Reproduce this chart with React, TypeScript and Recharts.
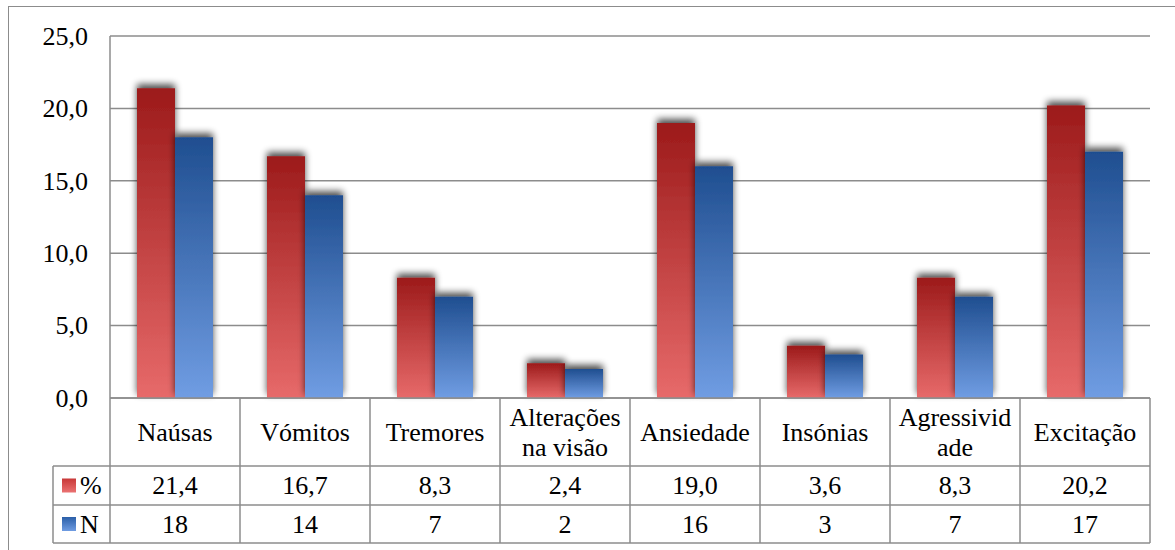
import React from "react";
import { BarChart, Bar, XAxis, YAxis, CartesianGrid } from "recharts";

const categories = [
  "Naúsas",
  "Vómitos",
  "Tremores",
  "Alterações\nna visão",
  "Ansiedade",
  "Insónias",
  "Agressivid\nade",
  "Excitação",
];
const pctValues = [21.4, 16.7, 8.3, 2.4, 19.0, 3.6, 8.3, 20.2];
const nValues = [18, 14, 7, 2, 16, 3, 7, 17];
const yTicks = [0, 5, 10, 15, 20, 25];
const seriesLabels = ["%", "N"];

const data = categories.map((c, i) => ({ name: c, pct: pctValues[i], n: nValues[i] }));

const W = 1175;
const H = 550;
const M = { top: 36, right: 25, left: 50, bottom: 0 };
const Y_AXIS_W = 60;
const X_AXIS_H = 152;
const PLOT_LEFT = M.left + Y_AXIS_W;
const PLOT_RIGHT = W - M.right;
const PLOT_BOTTOM = H - M.bottom - X_AXIS_H;
const BAND = (PLOT_RIGHT - PLOT_LEFT) / categories.length;
const ROW1 = PLOT_BOTTOM + 68;
const ROW2 = ROW1 + 39;
const ROW3 = ROW2 + 38;
const LEGEND_LEFT = 53;
const GRID = "#8c8c8c";
const FONT = "Liberation Serif";
const FS = 26;
const DY = "0.34em";

const fmt1 = (v: number) => v.toFixed(1).replace(".", ",");
const tStyle: React.CSSProperties = { fontFamily: FONT, fontSize: FS };

const YTick = (props: any) => {
  const { x, y, payload } = props;
  return (
    <text className="serif-t" x={x} y={y} dy={DY} textAnchor="end" fontFamily={FONT} fontSize={FS} style={tStyle} fill="#000">
      {fmt1(payload.value)}
    </text>
  );
};

const XTick = (props: any) => {
  const { x, payload, index } = props;
  const cx = x;
  const left = cx - BAND / 2;
  const right = cx + BAND / 2;
  const idx = payload.index ?? index;
  const lines = String(payload.value).split("\n");
  const midRow1 = (PLOT_BOTTOM + ROW1) / 2;
  const lh = 30;
  const txt = {
    className: "serif-t",
    fontFamily: FONT,
    fontSize: FS,
    style: tStyle,
    fill: "#000",
    dy: DY,
    textAnchor: "middle" as const,
  };
  const ln = { stroke: GRID, strokeWidth: 1.5 };
  return (
    <g>
      <line x1={left} y1={PLOT_BOTTOM} x2={left} y2={ROW3} {...ln} />
      {idx === categories.length - 1 && <line x1={right} y1={PLOT_BOTTOM} x2={right} y2={ROW3} {...ln} />}
      <line x1={left} y1={ROW1} x2={right} y2={ROW1} {...ln} />
      <line x1={left} y1={ROW2} x2={right} y2={ROW2} {...ln} />
      <line x1={left} y1={ROW3} x2={right} y2={ROW3} {...ln} />
      {lines.map((l, k) => (
        <text key={k} x={cx} y={midRow1 + (k - (lines.length - 1) / 2) * lh} {...txt}>
          {l}
        </text>
      ))}
      <text x={cx} y={(ROW1 + ROW2) / 2} {...txt}>
        {fmt1(pctValues[idx])}
      </text>
      <text x={cx} y={(ROW2 + ROW3) / 2} {...txt}>
        {String(nValues[idx])}
      </text>
      {idx === 0 && (
        <g>
          <line x1={LEGEND_LEFT} y1={ROW1} x2={left} y2={ROW1} {...ln} />
          <line x1={LEGEND_LEFT} y1={ROW2} x2={left} y2={ROW2} {...ln} />
          <line x1={LEGEND_LEFT} y1={ROW3} x2={left} y2={ROW3} {...ln} />
          <line x1={LEGEND_LEFT} y1={ROW1} x2={LEGEND_LEFT} y2={ROW3} {...ln} />
          <rect x={62} y={(ROW1 + ROW2) / 2 - 7} width={14} height={14} fill="url(#legRed)" />
          <rect x={62} y={(ROW2 + ROW3) / 2 - 7} width={14} height={14} fill="url(#legBlue)" />
          <text x={80} y={(ROW1 + ROW2) / 2} {...txt} textAnchor="start">
            {seriesLabels[0]}
          </text>
          <text x={80} y={(ROW2 + ROW3) / 2} {...txt} textAnchor="start">
            {seriesLabels[1]}
          </text>
        </g>
      )}
    </g>
  );
};

export default function App() {
  return (
    <div
      style={{
        position: "absolute",
        left: 0,
        top: 0,
        width: W,
        height: H,
        overflow: "hidden",
        background: "#fff",
      }}
    >
      <style>{`.serif-t, svg text { font-family: "Liberation Serif" !important; }`}</style>
      <div
        style={{
          position: "absolute",
          left: 8,
          top: 6,
          width: 1400,
          height: 800,
          border: `1.5px solid ${GRID}`,
          boxSizing: "border-box",
        }}
      />
      <div style={{ position: "absolute", left: 0, top: 0 }}>
        <BarChart width={W} height={H} data={data} margin={M} barSize={38} barGap={0}>
          <defs>
            <linearGradient id="gRed" x1="0" y1="0" x2="0" y2="1">
              <stop offset="0%" stopColor="#9c1a1a" />
              <stop offset="100%" stopColor="#e76a6a" />
            </linearGradient>
            <linearGradient id="gBlue" x1="0" y1="0" x2="0" y2="1">
              <stop offset="0%" stopColor="#1f4e90" />
              <stop offset="100%" stopColor="#709de3" />
            </linearGradient>
            <linearGradient id="legRed" x1="0" y1="0" x2="0" y2="1">
              <stop offset="0%" stopColor="#c83838" />
              <stop offset="100%" stopColor="#ea7272" />
            </linearGradient>
            <linearGradient id="legBlue" x1="0" y1="0" x2="0" y2="1">
              <stop offset="0%" stopColor="#2b5fa8" />
              <stop offset="100%" stopColor="#6f9ce2" />
            </linearGradient>
            <filter id="shadow" filterUnits="userSpaceOnUse" x="0" y="0" width={W} height={H}>
              <feGaussianBlur in="SourceAlpha" stdDeviation="3.5" />
              <feOffset dx="0" dy="-4" result="ob" />
              <feComponentTransfer>
                <feFuncA type="linear" slope="0.7" />
              </feComponentTransfer>
              <feMerge>
                <feMergeNode />
                <feMergeNode in="SourceGraphic" />
              </feMerge>
            </filter>
          </defs>
          <CartesianGrid horizontal vertical={false} stroke={GRID} strokeWidth={1.5} />
          <XAxis
            dataKey="name"
            height={X_AXIS_H}
            interval={0}
            tickLine={false}
            axisLine={{ stroke: GRID, strokeWidth: 1.5 }}
            tick={<XTick />}
          />
          <YAxis
            width={Y_AXIS_W}
            domain={[0, 25]}
            ticks={yTicks}
            tickLine={false}
            tickMargin={16}
            axisLine={{ stroke: GRID, strokeWidth: 1.5 }}
            tick={<YTick />}
          />
          <Bar dataKey="pct" fill="url(#gRed)" filter="url(#shadow)" isAnimationActive={false} />
          <Bar dataKey="n" fill="url(#gBlue)" filter="url(#shadow)" isAnimationActive={false} />
        </BarChart>
      </div>
    </div>
  );
}
